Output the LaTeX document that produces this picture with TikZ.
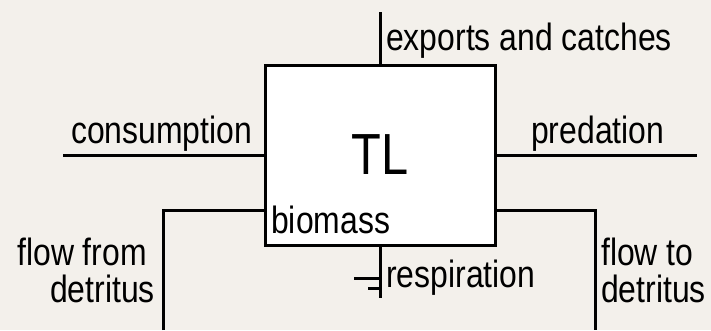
\documentclass[tikz,border=0pt]{standalone}
\usepackage{fontspec}
\setmainfont[FakeStretch=0.84]{Liberation Sans}
\usetikzlibrary{calc}
\definecolor{bgcol}{RGB}{243,240,235}
\tikzset{
  flow/.style={line width=3pt, black},
  lbl/.style={inner sep=0pt, font=\fontsize{38}{44}\selectfont},
  boxstyle/.style={draw=black, line width=3pt, fill=white, minimum width=230pt, minimum height=180pt, inner sep=0pt, font=\fontsize{58}{64}\selectfont}
}
\begin{document}
\begin{tikzpicture}[x=1pt,y=-1pt]
\useasboundingbox (0,0) rectangle (711,330);
\fill[bgcol] (0,0) rectangle (711,330);
% compartment
\node[boxstyle] (box) at (380,155) {TL};
\node[lbl, anchor=base west] (bio) at (271,233) {biomass};
% free ends
\coordinate (expend) at (380,12);
\coordinate (consend) at (63,155);
\coordinate (predend) at (697,155);
\coordinate (ffdend) at (163,330);
\coordinate (ftdend) at (595,330);
\coordinate (respend) at (380,298);
% connectors
\draw[flow] (box.north) -- (expend);
\draw[flow] (consend) -- (box.west);
\draw[flow] (box.east) -- (predend);
\draw[flow] (ffdend) |- ($(box.south west)+(0,-36)$);
\draw[flow] ($(box.south east)+(0,-36)$) -| (ftdend);
\draw[flow] (box.south) -- (respend);
\draw[flow] ($(respend)+(-26,-20)$) -- ($(respend)+(0,-20)$);
\draw[flow] ($(respend)+(-12,-10)$) -- ($(respend)+(0,-10)$);
% labels
\node[lbl, anchor=base west] (lexp) at (386,50) {exports and catches};
\node[lbl, anchor=base west] (lcons) at (71,143) {consumption};
\node[lbl, anchor=base west] (lpred) at (531,143) {predation};
\node[lbl, anchor=base west] (lresp) at (386,287) {respiration};
\node[lbl, anchor=base east] (lff1) at (147,265) {flow from};
\node[lbl, anchor=base east] (lff2) at (155,302) {detritus};
\node[lbl, anchor=base west] (lft1) at (601,265) {flow to};
\node[lbl, anchor=base west] (lft2) at (601,302) {detritus};
\end{tikzpicture}
\end{document}
